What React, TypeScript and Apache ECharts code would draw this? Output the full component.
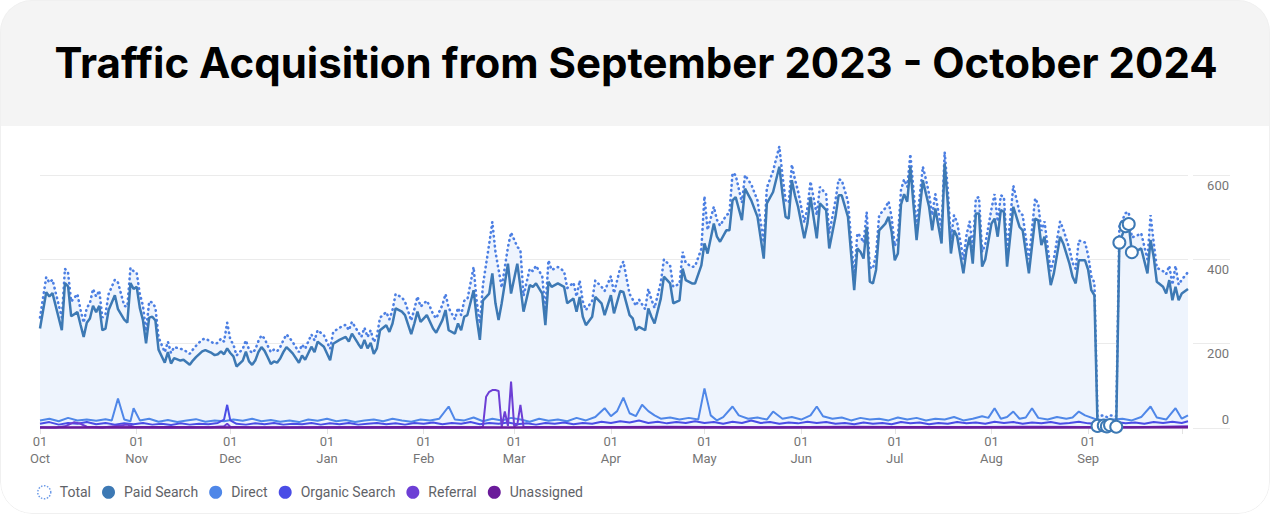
import React, { useEffect, useRef } from "react";
import * as echarts from "echarts";

const TITLE = "Traffic Acquisition from September 2023 - October 2024";
const MONTHS = ["Jan", "Feb", "Mar", "Apr", "May", "Jun", "Jul", "Aug", "Sep", "Oct", "Nov", "Dec"];
const LEGEND_NAMES = ["Total", "Paid Search", "Direct", "Organic Search", "Referral", "Unassigned"];
const Y_LABELS = [0, 200, 400, 600];
const LAST_DAY = 368; // days after 1 Oct 2023
const LAST_LABEL_DAY = 340; // month labels shown up to here

// [day offset from 2023-10-01, value]
const paidSearch: [number, number][] = [
  [0,236],[2,322],[3,312],[4,320],[7,232],[8,344],[9,336],[10,265],[12,275],[13,245],[14,216],[15,250],[16,260],[17,290],[18,275],[19,290],[20,232],[21,236],[22,280],[24,315],[25,282],[27,257],[28,250],[29,344],[30,330],[31,335],[32,285],[33,256],[34,201],[35,262],[36,264],[37,255],[38,186],[40,155],[41,180],[42,153],[43,166],[45,160],[46,162],[48,150],[49,160],[50,168],[52,182],[53,185],[55,178],[56,173],[57,175],[58,182],[59,175],[60,189],[61,178],[62,170],[63,146],[65,160],[66,181],[67,158],[68,150],[69,160],[70,180],[71,192],[72,183],[73,168],[74,152],[75,158],[76,155],[77,165],[78,180],[79,192],[80,185],[81,177],[83,155],[84,172],[85,162],[87,193],[88,180],[89,205],[91,193],[93,161],[94,200],[96,209],[98,216],[99,205],[100,224],[102,200],[103,189],[104,209],[105,189],[106,202],[107,176],[108,189],[109,232],[111,244],[112,228],[113,248],[114,284],[116,276],[117,268],[119,223],[120,248],[121,276],[122,252],[124,268],[125,252],[126,236],[127,226],[129,256],[130,280],[131,232],[133,224],[134,248],[135,232],[136,264],[137,268],[139,327],[140,260],[141,209],[142,303],[144,319],[145,367],[146,296],[147,256],[148,296],[150,390],[151,319],[153,390],[154,335],[155,276],[157,339],[158,335],[159,343],[161,319],[162,244],[163,347],[164,335],[166,343],[168,335],[169,296],[171,307],[172,276],[173,311],[174,264],[175,244],[177,264],[178,311],[180,296],[181,268],[183,315],[184,272],[186,325],[187,323],[189,268],[190,260],[191,232],[192,240],[194,232],[195,284],[196,264],[197,248],[199,307],[200,359],[202,343],[203,296],[205,303],[206,378],[207,351],[209,343],[210,343],[212,386],[213,438],[214,414],[216,485],[217,454],[218,442],[220,469],[221,469],[222,540],[223,548],[225,493],[226,568],[228,540],[230,501],[232,402],[233,533],[235,560],[237,620],[238,556],[239,501],[240,497],[241,588],[242,552],[243,525],[245,450],[246,485],[247,548],[249,450],[250,533],[252,517],[253,426],[255,501],[256,552],[257,552],[259,501],[261,327],[262,426],[263,418],[264,402],[265,477],[266,347],[267,343],[268,375],[269,469],[271,485],[272,501],[273,465],[274,398],[275,414],[276,530],[277,555],[278,537],[279,620],[280,530],[281,446],[283,588],[284,556],[285,525],[286,469],[287,521],[289,438],[290,628],[291,533],[292,414],[293,469],[294,454],[296,367],[297,422],[298,454],[299,390],[300,509],[301,509],[302,383],[303,400],[305,485],[306,497],[307,454],[308,517],[309,513],[310,383],[312,525],[314,477],[315,469],[317,367],[319,497],[320,493],[321,434],[322,454],[324,339],[325,367],[327,454],[328,438],[330,390],[331,359],[332,343],[333,398],[335,398],[336,375],[337,327],[338,315],[339,5],[341,6],[342,4],[343,7],[345,3],[346,440],[348,479],[349,484],[350,417],[352,422],[353,426],[355,367],[356,446],[357,406],[358,347],[360,335],[361,319],[362,351],[363,303],[364,335],[365,303],[366,319],[368,330]
];

const total: [number, number][] = [
  [0,262],[2,358],[3,345],[4,352],[7,262],[8,378],[9,368],[10,300],[12,318],[13,280],[14,250],[15,285],[16,296],[17,330],[18,312],[19,326],[20,262],[21,270],[22,318],[24,352],[25,345],[27,290],[28,288],[29,380],[30,372],[31,368],[32,318],[33,290],[34,230],[35,300],[36,298],[37,286],[38,215],[40,180],[41,205],[42,178],[43,192],[45,188],[46,186],[48,176],[49,186],[50,195],[52,210],[53,212],[55,204],[56,200],[57,202],[58,212],[59,205],[60,250],[61,210],[62,198],[63,172],[65,188],[66,208],[67,186],[68,178],[69,186],[70,206],[71,220],[72,212],[73,195],[74,180],[75,186],[76,182],[77,192],[78,208],[79,222],[80,214],[81,204],[83,180],[84,198],[85,188],[87,222],[88,208],[89,232],[91,220],[93,188],[94,228],[96,238],[98,245],[99,232],[100,252],[102,228],[103,216],[104,238],[105,216],[106,232],[107,204],[108,218],[109,262],[111,275],[112,258],[113,280],[114,318],[116,310],[117,300],[119,255],[120,282],[121,312],[122,288],[124,302],[125,288],[126,270],[127,260],[129,292],[130,318],[131,285],[133,258],[134,285],[135,268],[136,302],[137,305],[139,382],[140,300],[141,248],[142,340],[144,437],[145,489],[146,418],[147,376],[148,333],[150,429],[151,464],[153,430],[154,422],[155,314],[157,378],[158,372],[159,385],[161,360],[162,280],[163,398],[164,375],[166,382],[168,372],[169,332],[171,345],[172,312],[173,350],[174,300],[175,280],[177,302],[178,350],[180,335],[181,325],[183,360],[184,320],[186,380],[187,395],[189,318],[190,305],[191,290],[192,305],[194,282],[195,330],[196,305],[197,285],[199,345],[200,400],[202,385],[203,335],[205,342],[206,418],[207,392],[209,382],[210,384],[212,425],[213,550],[214,470],[216,525],[217,494],[218,480],[220,505],[221,510],[222,605],[223,600],[225,535],[226,600],[228,578],[230,540],[232,440],[233,570],[235,610],[237,668],[238,600],[239,540],[240,535],[241,625],[242,590],[243,562],[245,488],[246,522],[247,585],[249,505],[250,572],[252,555],[253,462],[255,540],[256,590],[257,588],[259,538],[261,360],[262,462],[263,455],[264,440],[265,512],[266,382],[267,378],[268,412],[269,505],[271,522],[272,538],[273,500],[274,432],[275,450],[276,565],[277,590],[278,572],[279,650],[280,565],[281,480],[283,620],[284,590],[285,555],[286,505],[287,555],[289,470],[290,655],[291,565],[292,448],[293,505],[294,488],[296,400],[297,458],[298,490],[299,425],[300,545],[301,548],[302,418],[303,435],[305,520],[306,555],[307,490],[308,552],[309,548],[310,418],[312,575],[314,512],[315,505],[317,400],[319,545],[320,530],[321,468],[322,490],[324,372],[325,402],[327,490],[328,472],[330,425],[331,392],[332,378],[333,445],[335,440],[336,410],[337,360],[338,345],[339,28],[341,30],[342,26],[343,30],[345,28],[346,478],[348,510],[349,512],[350,452],[352,458],[353,462],[355,400],[356,505],[357,440],[358,380],[360,372],[361,365],[362,385],[363,340],[364,385],[365,340],[366,352],[368,370]
];

const direct: [number, number][] = [
  [0,18],[3,22],[6,16],[9,24],[12,18],[15,20],[18,17],[21,21],[23,18],[25,70],[27,20],[29,16],[30,47],[32,18],[35,22],[38,15],[41,19],[44,14],[47,18],[50,21],[53,15],[56,18],[59,16],[62,20],[65,17],[68,22],[71,16],[74,19],[77,15],[80,18],[83,14],[86,20],[89,17],[92,22],[95,16],[98,19],[101,14],[104,18],[107,20],[110,16],[113,22],[116,18],[119,15],[122,20],[125,18],[128,22],[131,51],[133,20],[136,18],[139,25],[142,16],[145,22],[148,18],[151,24],[154,20],[157,15],[160,22],[163,17],[166,20],[169,16],[172,24],[175,18],[178,26],[181,47],[183,28],[185,40],[187,72],[189,35],[191,28],[193,55],[195,40],[197,30],[199,22],[202,25],[205,20],[208,24],[211,20],[213,94],[215,30],[217,18],[219,26],[222,51],[224,30],[227,22],[230,25],[233,20],[235,39],[238,22],[241,26],[244,20],[247,30],[249,51],[251,28],[254,22],[257,25],[260,18],[263,24],[266,20],[269,22],[272,18],[275,25],[278,20],[281,24],[284,18],[287,22],[290,20],[293,26],[296,18],[299,22],[302,28],[304,24],[306,47],[308,22],[310,26],[312,39],[314,22],[316,25],[318,47],[320,24],[323,20],[326,26],[329,22],[331,25],[333,39],[335,30],[338,22],[341,18],[344,20],[347,22],[350,18],[353,26],[356,51],[358,25],[361,20],[364,47],[366,22],[368,30]
];

const organicSearch: [number, number][] = [
  [0,10],[3,14],[6,8],[9,12],[12,10],[15,14],[18,9],[21,12],[24,8],[27,11],[30,9],[33,12],[36,8],[39,10],[42,7],[45,11],[48,8],[51,10],[54,9],[57,12],[59,20],[60,55],[61,18],[63,10],[66,8],[69,11],[72,9],[75,12],[78,8],[81,10],[84,9],[87,12],[90,8],[93,11],[96,9],[99,12],[102,8],[105,10],[108,12],[111,9],[114,11],[117,8],[120,12],[123,10],[126,13],[129,9],[132,12],[135,10],[138,14],[141,9],[144,12],[147,10],[150,13],[153,9],[156,11],[159,8],[162,12],[165,10],[168,13],[171,9],[174,12],[177,10],[180,15],[183,12],[186,16],[189,13],[192,18],[195,12],[198,15],[201,11],[204,14],[207,12],[210,16],[213,12],[216,14],[219,10],[222,15],[225,12],[228,18],[231,12],[234,14],[237,10],[240,13],[243,11],[246,15],[249,12],[252,14],[255,10],[258,12],[261,9],[264,13],[267,10],[270,12],[273,9],[276,14],[279,11],[282,13],[285,9],[288,12],[291,10],[294,14],[297,11],[300,13],[303,10],[306,15],[309,12],[312,14],[315,10],[318,13],[321,11],[324,14],[327,10],[330,12],[333,15],[336,11],[339,10],[342,12],[345,14],[348,11],[351,13],[354,10],[357,14],[360,12],[363,15],[366,12],[368,16]
];

const referral: [number, number][] = [
  [0,2],[5,1],[8,4],[11,14],[13,10],[15,3],[20,1],[28,8],[30,3],[40,1],[55,2],[59,4],[60,10],[61,3],[70,1],[90,2],[110,1],[130,2],[141,1],[142,4],[143,74],[144,86],[145,90],[146,90],[147,88],[148,3],[149,39],[150,5],[151,110],[152,4],[153,8],[154,55],[155,3],[170,2],[200,3],[230,2],[260,3],[290,2],[320,3],[350,2],[368,4]
];

const unassigned: [number, number][] = [
  [0,1],[40,2],[80,1],[120,2],[160,1],[200,2],[240,1],[280,2],[320,1],[368,2]
];

const paidMarkerDays = [339, 341, 342, 343, 345, 346, 348, 349, 350];

const COLORS = {
  total: "#4c7fe3",
  paid: "#3d79b4",
  direct: "#4f87e8",
  organic: "#4a4de6",
  referral: "#6d3fd5",
  unassigned: "#6a1b9a",
};

const toTime = (d: number) => new Date(2023, 9, 1 + d).getTime();
const toSeries = (arr: [number, number][]) => arr.map(([d, v]) => [toTime(d), v]);

export default function App() {
  const ref = useRef<HTMLDivElement>(null);

  useEffect(() => {
    if (!ref.current) return;
    const chart = echarts.init(ref.current, undefined, { renderer: "svg" });
    const font = "Roboto, 'Noto Sans', sans-serif";
    const gridTop = 133;
    const gridBottom = 86;
    const lastLabelTime = toTime(LAST_LABEL_DAY);

    const paidData = paidSearch.map(([d, v]) => {
      const t = toTime(d);
      if (paidMarkerDays.includes(d)) {
        return {
          value: [t, v],
          symbol: "circle",
          symbolSize: 12,
          itemStyle: { color: "#ffffff", borderColor: COLORS.paid, borderWidth: 2 },
        };
      }
      return { value: [t, v] };
    });

    const splitColors = ["#ebebeb", "rgba(0,0,0,0)"];

    const option: any = {
      animation: false,
      backgroundColor: "transparent",
      graphic: [
        { type: "rect", shape: { x: 0, y: 0, width: 1270, height: 126 }, style: { fill: "#f4f4f4" }, z: -10, silent: true },
        {
          type: "text",
          x: 636,
          y: 62,
          z: 10,
          style: {
            text: TITLE,
            fill: "#000000",
            fontSize: 42,
            fontWeight: 700,
            fontFamily: "Inter, Lato, sans-serif",
            align: "center",
            verticalAlign: "middle",
          },
        },
      ],
      legend: {
        left: 32,
        top: 480,
        icon: "circle",
        itemWidth: 21,
        itemHeight: 13,
        itemGap: 11,
        selectedMode: false,
        textStyle: { color: "#5f6368", fontSize: 14, fontFamily: font },
        data: LEGEND_NAMES.map((n) =>
          n === "Total"
            ? { name: n, itemStyle: { color: "#ffffff", borderColor: "#6d9be8", borderWidth: 1.5, borderType: "dotted" } }
            : { name: n }
        ),
      },
      grid: [
        { left: 40, right: 82, top: gridTop, bottom: gridBottom },
        { left: 1193, width: 37, top: gridTop, bottom: gridBottom },
      ],
      xAxis: [
        {
          type: "time",
          gridIndex: 0,
          min: toTime(0),
          max: toTime(LAST_DAY),
          splitNumber: 12,
          axisLine: { show: false },
          axisTick: { show: true, length: 6, lineStyle: { color: "#e3e3e3" } },
          splitLine: { show: false },
          axisLabel: {
            color: "#757575",
            fontSize: 13,
            lineHeight: 17,
            fontFamily: font,
            margin: 5,
            alignMinLabel: "left",
            hideOverlap: false,
            formatter: (val: number) => {
              const d = new Date(val);
              if (val > lastLabelTime) return "";
              return d.getDate() === 1 ? "01\n" + MONTHS[d.getMonth()] : "";
            },
          },
        },
        { type: "value", gridIndex: 1, show: false, min: 0, max: 1 },
      ],
      yAxis: [
        {
          type: "value",
          gridIndex: 0,
          min: 0,
          max: 700,
          interval: 100,
          position: "right",
          axisLine: { show: false },
          axisTick: { show: false },
          axisLabel: { show: false },
          splitLine: { show: true, lineStyle: { color: splitColors, width: 1 } },
        },
        {
          type: "value",
          gridIndex: 1,
          min: 0,
          max: 700,
          interval: 100,
          position: "right",
          axisLine: { show: false },
          axisTick: { show: false },
          splitLine: { show: true, lineStyle: { color: splitColors, width: 1 } },
          axisLabel: {
            inside: true,
            margin: 1,
            showMaxLabel: false,
            formatter: (v: number) => {
              if (!Y_LABELS.includes(v)) return "";
              return v === 0 ? "{z|0}" : "{n|" + v + "}";
            },
            rich: {
              n: { color: "#757575", fontSize: 13, fontFamily: font, padding: [20, 0, 0, 0] },
              z: { color: "#757575", fontSize: 13, fontFamily: font, padding: [0, 0, 18, 0] },
            },
          },
        },
      ],
      series: [
        {
          name: "Total",
          type: "line",
          data: toSeries(total),
          symbol: "none",
          silent: true,
          z: 2,
          itemStyle: { color: COLORS.total },
          lineStyle: { color: COLORS.total, width: 2.6, type: [0.5, 4.5], cap: "round" },
          areaStyle: { color: "#eef4fd", opacity: 1 },
          emphasis: { disabled: true },
        },
        {
          name: "Paid Search",
          type: "line",
          data: paidData,
          symbol: "none",
          silent: true,
          z: 4,
          itemStyle: { color: COLORS.paid },
          lineStyle: { color: COLORS.paid, width: 2.5 },
          emphasis: { disabled: true },
        },
        {
          name: "Direct",
          type: "line",
          data: toSeries(direct),
          symbol: "none",
          silent: true,
          z: 3,
          itemStyle: { color: COLORS.direct },
          lineStyle: { color: COLORS.direct, width: 2 },
          emphasis: { disabled: true },
        },
        {
          name: "Organic Search",
          type: "line",
          data: toSeries(organicSearch),
          symbol: "none",
          silent: true,
          z: 3,
          itemStyle: { color: COLORS.organic },
          lineStyle: { color: COLORS.organic, width: 2 },
          emphasis: { disabled: true },
        },
        {
          name: "Referral",
          type: "line",
          data: toSeries(referral),
          symbol: "none",
          silent: true,
          z: 3,
          itemStyle: { color: COLORS.referral },
          lineStyle: { color: COLORS.referral, width: 2 },
          emphasis: { disabled: true },
        },
        {
          name: "Unassigned",
          type: "line",
          data: toSeries(unassigned),
          symbol: "none",
          silent: true,
          z: 3,
          itemStyle: { color: COLORS.unassigned },
          lineStyle: { color: COLORS.unassigned, width: 2.5 },
          emphasis: { disabled: true },
        },
      ],
    };

    chart.setOption(option);
    return () => chart.dispose();
  }, []);

  return (
    <div
      style={{
        position: "absolute",
        left: 0,
        top: 0,
        width: 1270,
        height: 514,
        borderRadius: 32,
        overflow: "hidden",
        background: "#ffffff",
      }}
    >
      <div ref={ref} style={{ width: 1270, height: 514 }} />
      <div
        style={{
          position: "absolute",
          left: 0,
          top: 0,
          width: 1270,
          height: 514,
          boxSizing: "border-box",
          borderRadius: 32,
          border: "1px solid #f0f0f0",
          pointerEvents: "none",
        }}
      />
    </div>
  );
}
